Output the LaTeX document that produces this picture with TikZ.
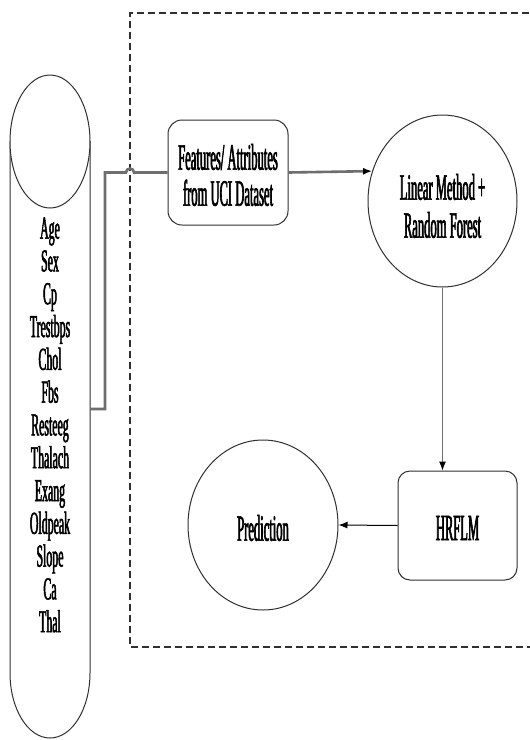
\documentclass[tikz,border=0pt]{standalone}
\usepackage{fontspec}
\newfontfamily\nf{Liberation Serif}[FakeStretch=0.34,FakeBold=1.6]
\newfontfamily\capf{Liberation Serif}[FakeStretch=0.37,FakeBold=1.6]
\usetikzlibrary{arrows.meta,shapes.geometric}
\definecolor{conn}{HTML}{6E6E6E}
\definecolor{edge}{HTML}{303030}
\tikzset{
  lbl/.style={font=\nf\fontsize{37}{36}\selectfont, text=black, align=center, inner sep=0pt},
  rbox/.style={draw=edge, line width=1pt, rounded corners=14pt, fill=white, inner sep=0pt},
  oval/.style={ellipse, draw=edge, line width=1pt, fill=white, inner sep=0pt},
  thickconn/.style={draw=conn, line width=2.6pt},
  thinconn/.style={draw=conn, line width=1pt},
  tip/.style={-{Latex[black,length=9pt,width=7pt]}},
  frame/.style={draw=edge, line width=1.3pt, dash pattern=on 7pt off 4pt}
}
\begin{document}
\begin{tikzpicture}[x=1pt,y=-1pt]
\useasboundingbox (0,0) rectangle (530,740);
\fill[white] (0,0) rectangle (530,740);
% dashed frame (right side off the picture)
\clip (0,0) rectangle (530,740);
\draw[frame] (540,13) -- (130,13) -- (130,647) -- (540,647);
% capsule of attributes
\draw[edge, line width=1pt] (10,141) -- (10,673) arc[start angle=180, end angle=0, x radius=40, y radius=65] -- (90,141);
\node[oval, minimum width=80pt, minimum height=133pt] (top) at (50,141.5) {};
\node[lbl, font=\capf\fontsize{32}{32.8}\selectfont] (attrs) at (50,425) {Age\\Sex\\Cp\\Trestbps\\Chol\\Fbs\\Resteeg\\Thalach\\Exang\\Oldpeak\\Slope\\Ca\\Thal};
\coordinate (capR) at (90,409);
% nodes
\node[rbox, minimum width=120pt, minimum height=105pt] (feat) at (228,172.5) {};
\node[lbl] at (228,175) {Features/ Attributes\\from UCI Dataset};
\node[oval, minimum width=149pt, minimum height=172pt] (lm) at (442.5,201) {};
\node[lbl, font=\nf\fontsize{37}{38}\selectfont] at (442.5,206) {Linear Method +\\Random Forest};
\node[rbox, rounded corners=12pt, minimum width=119pt, minimum height=109pt] (hrflm) at (457.5,525.5) {};
\node[lbl] at (457.5,528) {HRFLM};
\node[oval, minimum width=150pt, minimum height=170pt] (pred) at (263,525) {};
\node[lbl] at (263,528) {Prediction};
% connectors
\draw[thickconn] (capR) -- (105,409) -- (105,172.5) -- (126,172.5)
  arc[start angle=180, end angle=360, radius=4] -- (feat.west);
\draw[thickconn, tip] (feat.east) -- (lm.157.9);
\draw[thinconn, tip] (lm.south) -- (lm.south |- hrflm.north);
\draw[draw=black, line width=1pt, tip] (hrflm.west) -- (pred.east);
\end{tikzpicture}
\end{document}
